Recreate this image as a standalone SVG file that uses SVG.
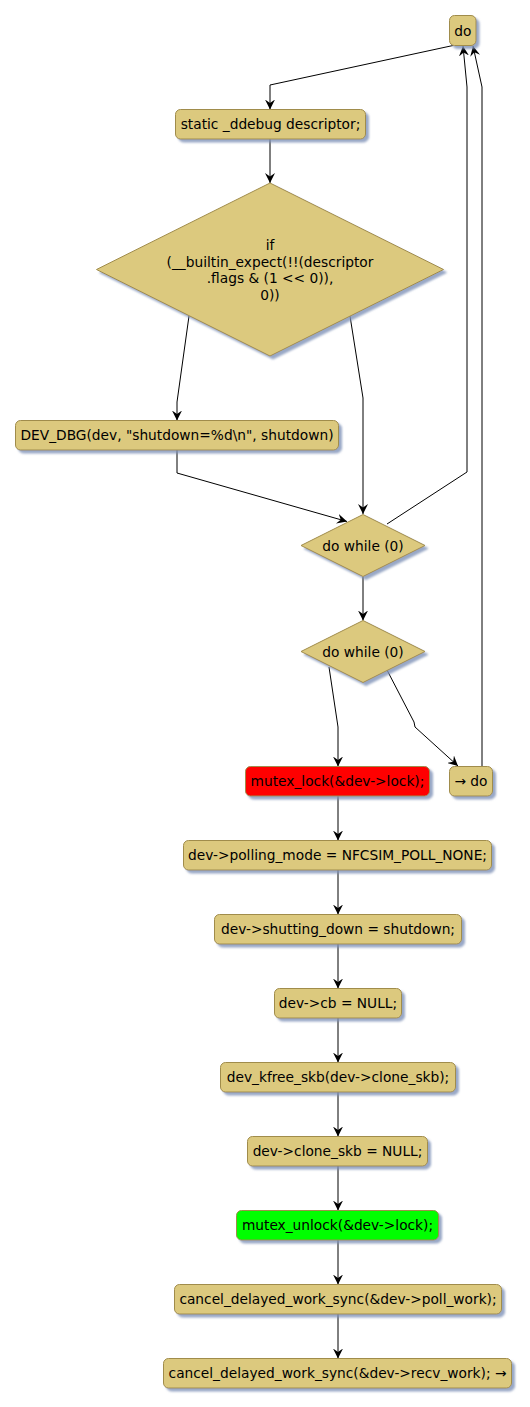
<svg xmlns="http://www.w3.org/2000/svg" width="530" height="1407" viewBox="0 0 530 1407">
<defs>
<style>
.n{fill:#DCC97E;stroke:#A08C4C;stroke-width:1}
.red{fill:#FF0000}
.green{fill:#00FF00}
.t{font-family:"DejaVu Sans","Liberation Sans",sans-serif;font-size:13.75px;fill:#000;text-anchor:middle}
.c{fill:none;stroke:#000;stroke-width:1;marker-end:url(#ah)}
</style>
<filter id="sh" x="-10%" y="-10%" width="130%" height="140%">
<feGaussianBlur in="SourceAlpha" stdDeviation="1.2" result="b"/>
<feOffset in="b" dx="3" dy="3" result="o"/>
<feFlood flood-color="#7F92B8" flood-opacity="0.8"/>
<feComposite in2="o" operator="in" result="s"/>
<feMerge><feMergeNode in="s"/><feMergeNode in="SourceGraphic"/></feMerge>
</filter>
<marker id="ah" viewBox="0 0 10 10" refX="10" refY="5" markerWidth="10" markerHeight="10" markerUnits="userSpaceOnUse" orient="auto">
<path d="M0,0 L10,5 L0,10 L3.5,5 Z" fill="#000"/>
</marker>
</defs>
<rect width="530" height="1407" fill="#FFFFFF"/>

<g id="connectors">
<path class="c" d="M453,45.5 L270,85 L270,109.5"/>
<path class="c" d="M270,138.5 L270,183"/>
<path class="c" d="M189,316 L177,402 L177,420.5"/>
<path class="c" d="M350,316 L363,398 L363,514"/>
<path class="c" d="M177,450 L177,473 L347,521.5"/>
<path class="c" d="M387,524 L467,472 L467,87 L463,46"/>
<path class="c" d="M363,577 L363,620.5"/>
<path class="c" d="M329,667 L338,727 L338,766.5"/>
<path class="c" d="M387,670 L414,722 L415,727 L458,766"/>
<path class="c" d="M482,766.5 L482,87 L473,46"/>
<path class="c" d="M338,796 L338,840.5"/>
<path class="c" d="M338,870 L338,914.5"/>
<path class="c" d="M338,944 L338,988.5"/>
<path class="c" d="M338,1018 L338,1062.5"/>
<path class="c" d="M338,1092 L338,1136.5"/>
<path class="c" d="M338,1166 L338,1210.5"/>
<path class="c" d="M338,1240 L338,1284.5"/>
<path class="c" d="M338,1314 L338,1358.5"/>
</g>

<g id="n_do"><rect class="n" filter="url(#sh)" x="449.5" y="15.5" width="26.5" height="30" rx="5"/><text class="t" x="462.75" y="35.5">do</text></g>
<g id="n_static"><rect class="n" filter="url(#sh)" x="175.5" y="109.5" width="190" height="29.5" rx="5"/><text class="t" x="270.5" y="129">static _ddebug descriptor;</text></g>
<g id="n_if"><polygon class="n" filter="url(#sh)" points="270,183 443.5,269.5 270,356 96.5,269.5"/>
<text class="t" x="270" y="250">if</text>
<text class="t" x="270" y="266.5">(__builtin_expect(!!(descriptor</text>
<text class="t" x="270" y="283">.flags &amp; (1 &lt;&lt; 0)),</text>
<text class="t" x="270" y="299.5">0))</text></g>
<g id="n_devdbg"><rect class="n" filter="url(#sh)" x="15.5" y="420.5" width="323" height="29.5" rx="5"/><text class="t" x="177" y="440">DEV_DBG(dev, "shutdown=%d\n", shutdown)</text></g>
<g id="n_dw1"><polygon class="n" filter="url(#sh)" points="363,514.5 425,545.5 363,576.5 301,545.5"/><text class="t" x="363" y="550.5">do while (0)</text></g>
<g id="n_dw2"><polygon class="n" filter="url(#sh)" points="363,620.5 425,651.5 363,682.5 301,651.5"/><text class="t" x="363" y="656.5">do while (0)</text></g>
<g id="n_lock"><rect class="n red" filter="url(#sh)" x="245.5" y="766.5" width="184" height="29.5" rx="5"/><text class="t" x="337.5" y="786">mutex_lock(&amp;dev-&gt;lock);</text></g>
<g id="n_todo"><rect class="n" filter="url(#sh)" x="449.5" y="766.5" width="43" height="29.5" rx="5"/><text class="t" x="471" y="786">→ do</text></g>
<g id="n_polling"><rect class="n" filter="url(#sh)" x="183.5" y="840.5" width="308" height="29.5" rx="5"/><text class="t" x="337.5" y="860">dev-&gt;polling_mode = NFCSIM_POLL_NONE;</text></g>
<g id="n_shut"><rect class="n" filter="url(#sh)" x="214.5" y="914.5" width="247" height="29.5" rx="5"/><text class="t" x="338" y="934">dev-&gt;shutting_down = shutdown;</text></g>
<g id="n_cb"><rect class="n" filter="url(#sh)" x="274.5" y="988.5" width="127" height="29.5" rx="5"/><text class="t" x="338" y="1008">dev-&gt;cb = NULL;</text></g>
<g id="n_kfree"><rect class="n" filter="url(#sh)" x="220.5" y="1062.5" width="235" height="29.5" rx="5"/><text class="t" x="338" y="1082">dev_kfree_skb(dev-&gt;clone_skb);</text></g>
<g id="n_clone"><rect class="n" filter="url(#sh)" x="247.5" y="1136.5" width="180" height="29.5" rx="5"/><text class="t" x="337.5" y="1156">dev-&gt;clone_skb = NULL;</text></g>
<g id="n_unlock"><rect class="n green" filter="url(#sh)" x="236.5" y="1210.5" width="202" height="29.5" rx="5"/><text class="t" x="337.5" y="1230">mutex_unlock(&amp;dev-&gt;lock);</text></g>
<g id="n_poll"><rect class="n" filter="url(#sh)" x="174.5" y="1284.5" width="327" height="29.5" rx="5"/><text class="t" x="338" y="1304">cancel_delayed_work_sync(&amp;dev-&gt;poll_work);</text></g>
<g id="n_recv"><rect class="n" filter="url(#sh)" x="163.5" y="1358.5" width="348" height="29.5" rx="5"/><text class="t" x="337.5" y="1378">cancel_delayed_work_sync(&amp;dev-&gt;recv_work); →</text></g>
</svg>
